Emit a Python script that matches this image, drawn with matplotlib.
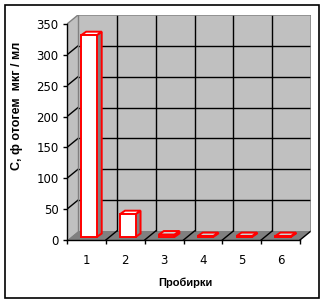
import matplotlib
matplotlib.use("Agg")
import matplotlib.pyplot as plt
from matplotlib.patches import Polygon, Rectangle

# ---- data ----
categories = ["1", "2", "3", "4", "5", "6"]
values = [327, 37, 4, 1.5, 1.5, 1.5]
y_ticks = [0, 50, 100, 150, 200, 250, 300, 350]
y_label = "С, ф отогем  мкг / мл"
x_label = "Пробирки"

# ---- figure geometry (pixels) ----
W, H = 323, 302
fig = plt.figure(figsize=(W / 100, H / 100), dpi=100)
fig.patch.set_facecolor("white")

front_left, front_right = 67, 300
front_bottom, front_top = 240, 24
depth_px_x, depth_px_y = 11, 9
n = len(categories)
ymax = y_ticks[-1]
px_per_cat = (front_right - front_left) / n
px_per_val = (front_bottom - front_top) / ymax
DX = depth_px_x / px_per_cat
DY = depth_px_y / px_per_val

ax = fig.add_axes([front_left / W, (H - front_bottom) / H,
                   (front_right + depth_px_x - front_left) / W,
                   (front_bottom - front_top + depth_px_y) / H])
ax.set_xlim(0, n + DX)
ax.set_ylim(0, ymax + DY)
ax.patch.set_visible(False)

WALL = "#C0C0C0"
FLOOR = "#808080"
EDGE = "#808080"

# walls and floor
ax.add_patch(Polygon([(DX, DY), (n + DX, DY), (n + DX, ymax + DY), (DX, ymax + DY)],
                     closed=True, facecolor=WALL, edgecolor="none", zorder=0))
ax.add_patch(Polygon([(0, 0), (DX, DY), (DX, ymax + DY), (0, ymax)],
                     closed=True, facecolor=WALL, edgecolor="none", zorder=0))
ax.add_patch(Polygon([(0, 0), (n, 0), (n + DX, DY), (DX, DY)],
                     closed=True, facecolor=FLOOR, edgecolor="none", zorder=0))

# gridlines
for v in y_ticks[1:-1]:
    ax.plot([DX, n + DX], [v + DY, v + DY], color="black", lw=1, zorder=1, solid_capstyle="butt")
    ax.plot([0, DX], [v, v + DY], color="black", lw=1, zorder=1)
for k in range(1, n):
    ax.plot([k + DX, k + DX], [DY, ymax + DY], color="black", lw=1, zorder=1, solid_capstyle="butt")
for k in range(1, n + 1):
    ax.plot([k, k + DX], [0, DY], color="black", lw=1, zorder=1)
# wall edges
ax.plot([0, DX, n + DX, n + DX], [ymax, ymax + DY, ymax + DY, DY], color=EDGE, lw=1, zorder=1)
ax.plot([DX, DX], [DY, ymax + DY], color=EDGE, lw=1, zorder=1)

# bars
RED = "#FF0000"
bw = 0.40
# bar front plane offset and bar depth, in pixels
bx0, by0 = 3.7, 3.0
bdx, bdy = 5.0, 3.5
ox0, oy0 = bx0 / px_per_cat, by0 / px_per_val
odx, ody = bdx / px_per_cat, bdy / px_per_val
for i, v in enumerate(values):
    c = i + 0.47
    x0, x1 = c - bw / 2 + ox0, c + bw / 2 + ox0
    b0 = oy0
    # right side
    ax.add_patch(Polygon([(x1, b0), (x1 + odx, b0 + ody),
                          (x1 + odx, b0 + ody + v), (x1, b0 + v)],
                         closed=True, facecolor="#808080", edgecolor=RED, lw=1.4,
                         joinstyle="miter", zorder=3))
    # top
    ax.add_patch(Polygon([(x0, b0 + v), (x1, b0 + v),
                          (x1 + odx, b0 + ody + v), (x0 + odx, b0 + ody + v)],
                         closed=True, facecolor="white" if v > 10 else "#D0D0D0",
                         edgecolor=RED, lw=1.4, joinstyle="miter", zorder=3))
    # front
    ax.add_patch(Rectangle((x0, b0), bw, v, facecolor="white",
                           edgecolor=RED, lw=1.4, joinstyle="miter", zorder=4))

# axes: spines & ticks
for s in ["top", "right"]:
    ax.spines[s].set_visible(False)
ax.spines["left"].set_bounds(0, ymax)
ax.spines["bottom"].set_bounds(0, n)
ax.spines["left"].set_linewidth(1)
ax.spines["bottom"].set_linewidth(1)
ax.set_yticks(y_ticks)
ax.set_yticklabels([str(t) for t in y_ticks])
ax.tick_params(axis="y", direction="out", length=3, width=1, pad=3, labelsize=8.5)
ax.set_xticks(range(n + 1))
ax.set_xticklabels([])
ax.set_xticks([i + 0.5 for i in range(n)], minor=True)
ax.set_xticklabels(categories, minor=True)
ax.tick_params(axis="x", which="major", direction="out", length=3, width=1)
ax.tick_params(axis="x", which="minor", length=0, pad=10, labelsize=8.5)

# labels
fig.text(185 / W, 1 - 283 / H, x_label, ha="center", va="center",
         fontsize=8, fontweight="bold", family="Liberation Sans")
fig.text(17 / W, 1 - 106 / H, y_label, ha="center", va="center", rotation=90,
         fontsize=9, fontweight="bold", family="Liberation Sans")

# outer frame
fig.add_artist(Rectangle((4.5 / W, 1 - 297.5 / H), 314 / W, 293 / H,
                         transform=fig.transFigure, fill=False,
                         edgecolor="black", lw=1.2))

fig.savefig("out.png", dpi=100)
